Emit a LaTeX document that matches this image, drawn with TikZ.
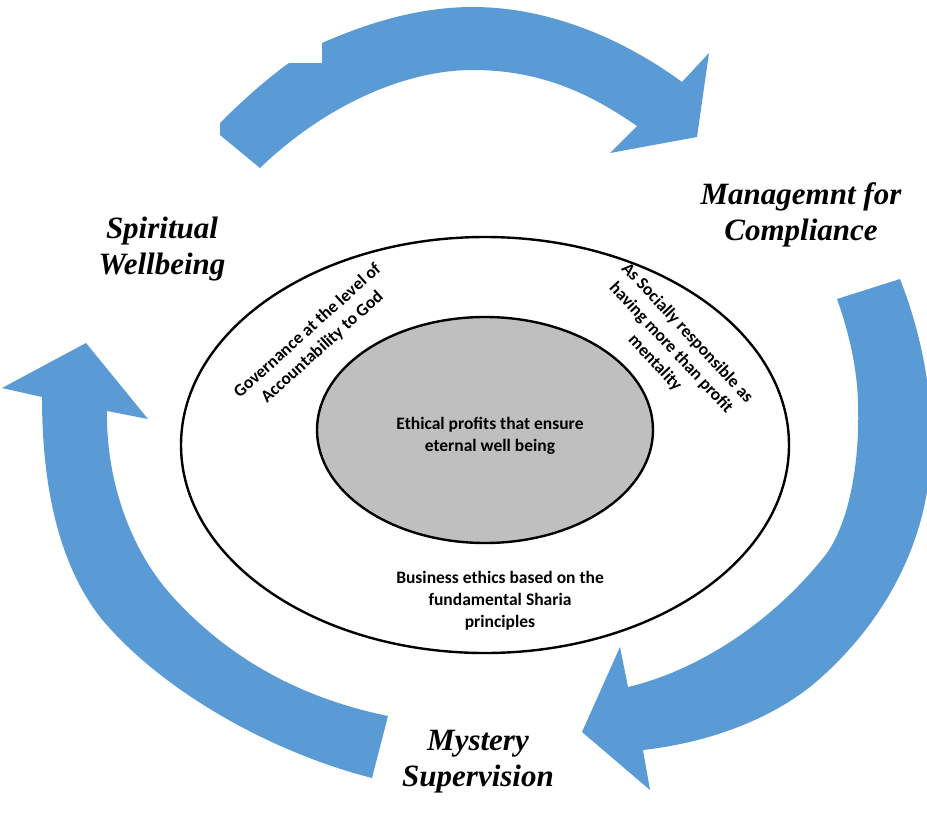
\documentclass[tikz,border=0pt]{standalone}
\usepackage{fontspec}
\setmainfont{Liberation Serif}
\newfontfamily\calib{Carlito}
\usetikzlibrary{shapes.geometric}
\definecolor{arrowblue}{HTML}{5B9BD5}
\definecolor{innergray}{HTML}{BFBFBF}
\tikzset{
  bigarrow/.style={fill=arrowblue},
  ring/.style={ellipse, draw=black, line width=2.4pt, inner sep=0pt},
  title/.style={align=center, font=\fontsize{31}{36}\selectfont\bfseries\itshape},
  body/.style={align=center, font=\calib\bfseries\fontsize{17.5}{22}\selectfont}
}
\begin{document}
\begin{tikzpicture}[x=1pt,y=-1pt]
\useasboundingbox (0,0) rectangle (927,823);
\clip (0,0) rectangle (927,823);
% top arrow
\fill[bigarrow] (260,168) -- (220,135) -- (220,123)
  .. controls (240,103) and (265,80) .. (289,63)
  -- (322,63) -- (322,43)
  .. controls (370,22) and (420,7) .. (473,7)
  .. controls (550,7) and (625,40) .. (682,82)
  -- (709,53) -- (697,137) -- (610,153) -- (637,126)
  .. controls (595,97) and (545,70) .. (473,70)
  .. controls (400,70) and (320,110) .. (260,168)
  -- cycle;
% right arrow
\fill[bigarrow] (837,299) -- (900,279)
  .. controls (922,335) and (933,395) .. (931,450)
  .. controls (929,540) and (885,625) .. (810,687)
  .. controls (765,722) and (705,743) .. (643,750)
  -- (650,790) -- (582,732) -- (620,647) -- (628,687)
  .. controls (700,670) and (775,620) .. (827,553)
  .. controls (850,520) and (860,460) .. (858,403)
  .. controls (857,365) and (848,330) .. (837,299)
  -- cycle;
% left arrow
\fill[bigarrow] (86,343) -- (148,419) -- (107,411)
  .. controls (106,480) and (130,550) .. (173,597)
  .. controls (235,665) and (310,700) .. (388,716)
  -- (372,778)
  .. controls (270,752) and (160,690) .. (100,617)
  .. controls (60,565) and (42,490) .. (42,397)
  -- (2,388) -- cycle;
% ellipses
\node[ring, fill=white, minimum width=608pt, minimum height=416pt] (outer) at (485,445) {};
\node[ring, fill=innergray, minimum width=336pt, minimum height=226pt] (inner) at (485,430) {};
% texts
\node[body] (core) at (490,436) {Ethical profits that ensure\\eternal well being};
\begin{scope}
\clip (300,540) rectangle (700,630);
\node[body] (sharia) at (500,601) {Business ethics based on the\\fundamental Sharia\\principles};
\end{scope}
\node[body, rotate=42] (gov) at (315,339) {Governance at the level of\\Accountability to God};
\node[body, rotate=-47] (social) at (671,348) {As Socially responsible as\\having more than profit\\mentality};
\node[title] (spirit) at (162,249) {Spiritual\\Wellbeing};
\node[title] (manage) at (801,215) {Managemnt for\\Compliance};
\node[title] (mystery) at (478,762) {Mystery\\Supervision};
\end{tikzpicture}
\end{document}
